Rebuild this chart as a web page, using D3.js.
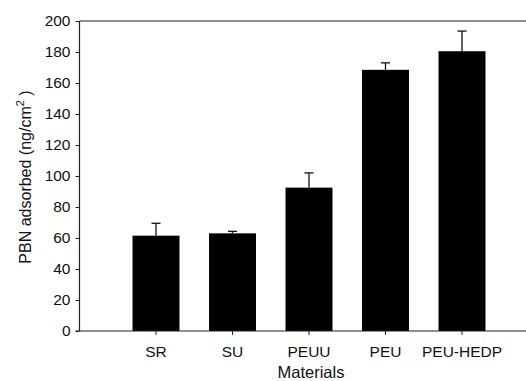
<!DOCTYPE html>
<html>
<head>
<meta charset="utf-8">
<script src="https://cdn.jsdelivr.net/npm/d3@7"></script>
<style>
  body { margin: 0; background: #fff; }
  text { font-family: "Liberation Sans", Arial, sans-serif; fill: #111; }
</style>
</head>
<body>
<div id="chart"></div>
<script>
const categories = ['SR', 'SU', 'PEUU', 'PEU', 'PEU-HEDP']
const means = [61.5, 63, 92.5, 168.5, 180.5]
const errors = [8, 1.3, 9.5, 4.5, 13]
const yTicks = [0, 20, 40, 60, 80, 100, 120, 140, 160, 180, 200]

const width = 526
const height = 381
const plotLeft = 79.5
const plotTop = 21
const plotBottom = 331
const step = 76.5

const svg = d3.select('#chart')
    .append('svg')
    .attr('width', width)
    .attr('height', height)

// Scales
const xScale = d3.scaleBand()
    .domain(categories)
    .range([plotLeft + step * 0.5, plotLeft + step * 5.5])
    .paddingInner(0.386)
    .paddingOuter(0.193)

const yScale = d3.scaleLinear()
    .domain([0, 200])
    .range([plotBottom, plotTop])

// Bars
svg.selectAll('.bar')
    .data(categories)
    .enter()
    .append('rect')
    .attr('class', 'bar')
    .attr('x', d => xScale(d))
    .attr('y', (d, i) => yScale(means[i]))
    .attr('width', xScale.bandwidth())
    .attr('height', (d, i) => yScale(0) - yScale(means[i]))
    .attr('fill', '#000')

// Error bars (upper only)
const capHalf = 4.5
const err = svg.selectAll('.err')
    .data(categories)
    .enter()
    .append('g')
    .attr('class', 'err')
    .attr('stroke', '#111')
    .attr('stroke-width', 1.3)
err.append('line')
    .attr('x1', d => xScale(d) + xScale.bandwidth() / 2)
    .attr('x2', d => xScale(d) + xScale.bandwidth() / 2)
    .attr('y1', (d, i) => yScale(means[i]))
    .attr('y2', (d, i) => yScale(means[i] + errors[i]))
err.append('line')
    .attr('x1', d => xScale(d) + xScale.bandwidth() / 2 - capHalf)
    .attr('x2', d => xScale(d) + xScale.bandwidth() / 2 + capHalf)
    .attr('y1', (d, i) => yScale(means[i] + errors[i]))
    .attr('y2', (d, i) => yScale(means[i] + errors[i]))

// Axes
const yAxis = d3.axisLeft(yScale)
    .tickValues(yTicks)
    .tickSize(4)
    .tickSizeOuter(0)
    .tickPadding(5)
const gy = svg.append('g')
    .attr('transform', 'translate(' + plotLeft + ',0)')
    .call(yAxis)
gy.select('.domain').remove()

const xAxis = d3.axisBottom(xScale)
    .tickSize(4)
    .tickSizeOuter(0)
    .tickPadding(11)
const gx = svg.append('g')
    .attr('transform', 'translate(0,' + plotBottom + ')')
    .call(xAxis)
gx.select('.domain').remove()

svg.selectAll('.tick line').attr('stroke', '#222')
svg.selectAll('.tick text')
    .style('font-size', '15.5px')
    .style('font-family', '"Liberation Sans", Arial, sans-serif')
    .attr('fill', '#111')

// Frame lines
const frame = svg.append('g').attr('stroke', '#222').attr('stroke-width', 1.2)
frame.append('line').attr('x1', plotLeft).attr('x2', plotLeft).attr('y1', plotTop).attr('y2', plotBottom)
frame.append('line').attr('x1', plotLeft - 4).attr('x2', width + 20).attr('y1', plotBottom).attr('y2', plotBottom)
frame.append('line').attr('x1', plotLeft).attr('x2', width + 20).attr('y1', plotTop).attr('y2', plotTop)

// Axis titles
svg.append('text')
    .attr('x', 311)
    .attr('y', 378)
    .attr('text-anchor', 'middle')
    .style('font-size', '16.5px')
    .text('Materials')

const yTitle = svg.append('text')
    .attr('transform', 'translate(31,' + 177 + ') rotate(-90)')
    .attr('text-anchor', 'middle')
    .style('font-size', '16px')
yTitle.append('tspan').text('PBN adsorbed (ng/cm')
yTitle.append('tspan').attr('dy', -7).style('font-size', '11px').text('2')
yTitle.append('tspan').attr('dy', 7).text(' )')
</script>
</body>
</html>
